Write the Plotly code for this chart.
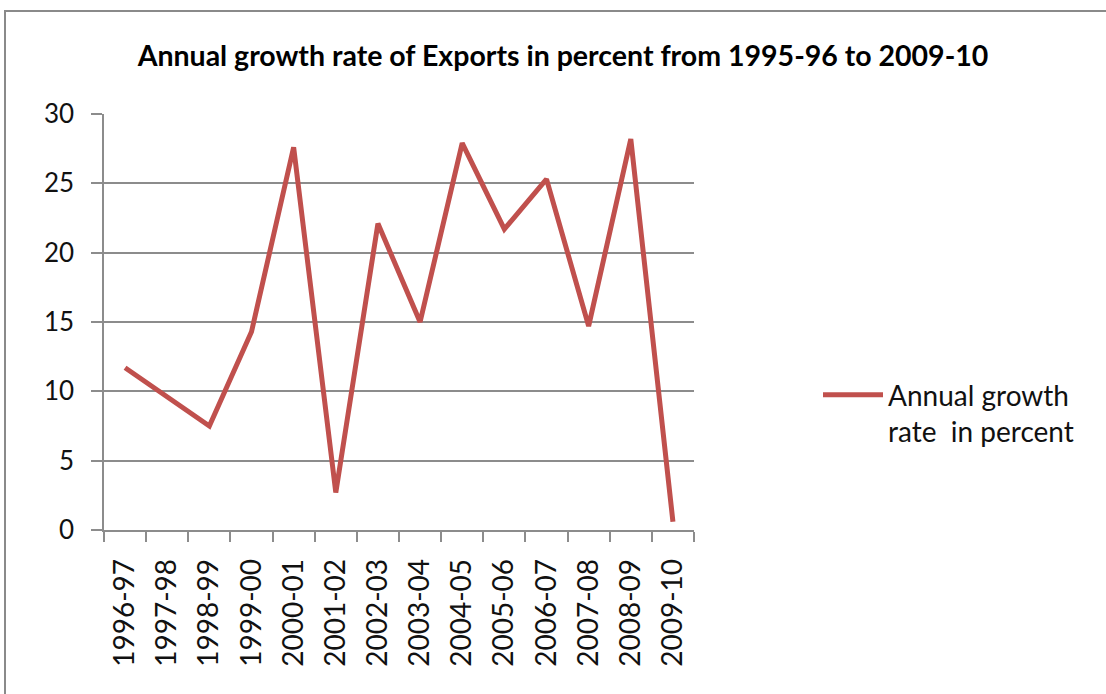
import plotly.graph_objects as go

categories = ["1996-97", "1997-98", "1998-99", "1999-00", "2000-01", "2001-02", "2002-03",
              "2003-04", "2004-05", "2005-06", "2006-07", "2007-08", "2008-09", "2009-10"]
growth = [11.7, 9.6, 7.5, 14.3, 27.6, 2.7, 22.1, 15.0, 27.9, 21.7, 25.3, 14.7, 28.2, 0.6]
series_name = "Annual growth<br>rate  in percent"
title_text = "Annual growth rate of Exports in percent from 1995-96 to 2009-10"

FONT = "Lato, Carlito, Calibri, sans-serif"
GRID = "#8c8c8c"

fig = go.Figure()
fig.add_trace(go.Scatter(
    x=categories, y=growth, mode="lines", name=series_name,
    line=dict(color="#C0504D", width=5),
))

W, H = 1106, 694
L, R, T, B = 104, 412, 114, 164
pw, ph = W - L - R, H - T - B

def px_x(x):
    return (x - L) / pw

def px_y(y):
    return (H - B - y) / ph

fig.update_layout(
    width=W, height=H,
    margin=dict(l=L, r=R, t=T, b=B),
    paper_bgcolor="white", plot_bgcolor="white",
    font=dict(family=FONT, size=27, color="#111111"),
    title=dict(text="<b>" + title_text + "</b>", x=563 / W, xanchor="center",
               y=1 - 56 / H, yanchor="middle", font=dict(size=28.5, family=FONT, color="#000000")),
    showlegend=True,
    legend=dict(x=px_x(818), y=px_y(370), xanchor="left", yanchor="top",
                font=dict(size=28, family=FONT, color="#111111"), valign="top",
                bgcolor="rgba(0,0,0,0)", itemwidth=60, tracegroupgap=0),
    xaxis=dict(
        type="category", showgrid=False, showline=True, linecolor=GRID, linewidth=1.5,
        ticks="outside", ticklen=10, tickcolor=GRID, tickwidth=1.5, tickson="boundaries",
        tickangle=-90, tickfont=dict(size=28, family=FONT, color="#111111"),
        ticklabelstandoff=16,
        range=[-0.5, len(categories) - 0.5], fixedrange=True,
    ),
    yaxis=dict(
        range=[0, 30], dtick=5, showgrid=True, gridcolor=GRID, gridwidth=1.5,
        showline=True, linecolor=GRID, linewidth=1.5, ticks="outside", ticklen=11,
        tickcolor=GRID, tickwidth=1.5, zeroline=False,
        tickfont=dict(size=26, family=FONT, color="#111111"), ticklabelstandoff=12,
    ),
    shapes=[dict(type="rect", xref="paper", yref="paper",
                 x0=px_x(5), x1=px_x(1112), y0=px_y(700), y1=px_y(11),
                 line=dict(color="#8a8a8a", width=2), fillcolor="rgba(0,0,0,0)", layer="below")],
)

fig.write_html("out.html")
